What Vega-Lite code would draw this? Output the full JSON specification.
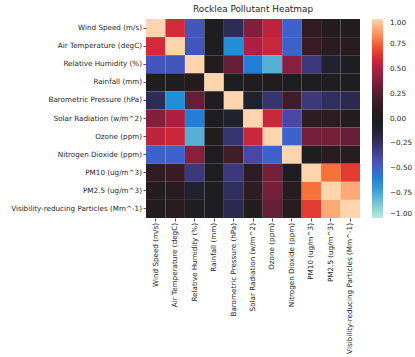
{
"$schema": "https://vega.github.io/schema/vega-lite/v6.json",
"width": 214, "height": 199,
"autosize": "none",
"padding": {"left": 146, "top": 19, "right": 55, "bottom": 139},
"title": {"text": "Rocklea Pollutant Heatmap", "fontSize": 8.9, "font": "DejaVu Sans", "fontWeight": "normal", "color": "#262626", "offset": 5, "anchor": "middle"},
"config": {"font": "DejaVu Sans", "view": {"stroke": null}, "background": "white"},
"data": {"values": [
{"r":"Wind Speed (m/s)","c":"Wind Speed (m/s)","v":1},
{"r":"Wind Speed (m/s)","c":"Air Temperature (degC)","v":0.6},
{"r":"Wind Speed (m/s)","c":"Relative Humidity (%)","v":-0.45},
{"r":"Wind Speed (m/s)","c":"Rainfall (mm)","v":0.0},
{"r":"Wind Speed (m/s)","c":"Barometric Pressure (hPa)","v":-0.22},
{"r":"Wind Speed (m/s)","c":"Solar Radiation (w/m^2)","v":0.38},
{"r":"Wind Speed (m/s)","c":"Ozone (ppm)","v":0.55},
{"r":"Wind Speed (m/s)","c":"Nitrogen Dioxide (ppm)","v":-0.5},
{"r":"Wind Speed (m/s)","c":"PM10 (ug/m^3)","v":0.12},
{"r":"Wind Speed (m/s)","c":"PM2.5 (ug/m^3)","v":0.03},
{"r":"Wind Speed (m/s)","c":"Visibility-reducing Particles (Mm^-1)","v":0.03},
{"r":"Air Temperature (degC)","c":"Wind Speed (m/s)","v":0.6},
{"r":"Air Temperature (degC)","c":"Air Temperature (degC)","v":1},
{"r":"Air Temperature (degC)","c":"Relative Humidity (%)","v":-0.45},
{"r":"Air Temperature (degC)","c":"Rainfall (mm)","v":0.0},
{"r":"Air Temperature (degC)","c":"Barometric Pressure (hPa)","v":-0.65},
{"r":"Air Temperature (degC)","c":"Solar Radiation (w/m^2)","v":0.5},
{"r":"Air Temperature (degC)","c":"Ozone (ppm)","v":0.58},
{"r":"Air Temperature (degC)","c":"Nitrogen Dioxide (ppm)","v":-0.5},
{"r":"Air Temperature (degC)","c":"PM10 (ug/m^3)","v":0.16},
{"r":"Air Temperature (degC)","c":"PM2.5 (ug/m^3)","v":0.07},
{"r":"Air Temperature (degC)","c":"Visibility-reducing Particles (Mm^-1)","v":0.07},
{"r":"Relative Humidity (%)","c":"Wind Speed (m/s)","v":-0.45},
{"r":"Relative Humidity (%)","c":"Air Temperature (degC)","v":-0.45},
{"r":"Relative Humidity (%)","c":"Relative Humidity (%)","v":1},
{"r":"Relative Humidity (%)","c":"Rainfall (mm)","v":0.03},
{"r":"Relative Humidity (%)","c":"Barometric Pressure (hPa)","v":0.3},
{"r":"Relative Humidity (%)","c":"Solar Radiation (w/m^2)","v":-0.6},
{"r":"Relative Humidity (%)","c":"Ozone (ppm)","v":-0.78},
{"r":"Relative Humidity (%)","c":"Nitrogen Dioxide (ppm)","v":0.4},
{"r":"Relative Humidity (%)","c":"PM10 (ug/m^3)","v":-0.3},
{"r":"Relative Humidity (%)","c":"PM2.5 (ug/m^3)","v":-0.12},
{"r":"Relative Humidity (%)","c":"Visibility-reducing Particles (Mm^-1)","v":-0.02},
{"r":"Rainfall (mm)","c":"Wind Speed (m/s)","v":0.0},
{"r":"Rainfall (mm)","c":"Air Temperature (degC)","v":0.0},
{"r":"Rainfall (mm)","c":"Relative Humidity (%)","v":0.03},
{"r":"Rainfall (mm)","c":"Rainfall (mm)","v":1},
{"r":"Rainfall (mm)","c":"Barometric Pressure (hPa)","v":0.0},
{"r":"Rainfall (mm)","c":"Solar Radiation (w/m^2)","v":0.0},
{"r":"Rainfall (mm)","c":"Ozone (ppm)","v":0.02},
{"r":"Rainfall (mm)","c":"Nitrogen Dioxide (ppm)","v":0.0},
{"r":"Rainfall (mm)","c":"PM10 (ug/m^3)","v":0.0},
{"r":"Rainfall (mm)","c":"PM2.5 (ug/m^3)","v":0.0},
{"r":"Rainfall (mm)","c":"Visibility-reducing Particles (Mm^-1)","v":0.0},
{"r":"Barometric Pressure (hPa)","c":"Wind Speed (m/s)","v":-0.22},
{"r":"Barometric Pressure (hPa)","c":"Air Temperature (degC)","v":-0.65},
{"r":"Barometric Pressure (hPa)","c":"Relative Humidity (%)","v":0.3},
{"r":"Barometric Pressure (hPa)","c":"Rainfall (mm)","v":0.0},
{"r":"Barometric Pressure (hPa)","c":"Barometric Pressure (hPa)","v":1},
{"r":"Barometric Pressure (hPa)","c":"Solar Radiation (w/m^2)","v":-0.12},
{"r":"Barometric Pressure (hPa)","c":"Ozone (ppm)","v":-0.28},
{"r":"Barometric Pressure (hPa)","c":"Nitrogen Dioxide (ppm)","v":0.18},
{"r":"Barometric Pressure (hPa)","c":"PM10 (ug/m^3)","v":-0.3},
{"r":"Barometric Pressure (hPa)","c":"PM2.5 (ug/m^3)","v":-0.24},
{"r":"Barometric Pressure (hPa)","c":"Visibility-reducing Particles (Mm^-1)","v":-0.2},
{"r":"Solar Radiation (w/m^2)","c":"Wind Speed (m/s)","v":0.38},
{"r":"Solar Radiation (w/m^2)","c":"Air Temperature (degC)","v":0.5},
{"r":"Solar Radiation (w/m^2)","c":"Relative Humidity (%)","v":-0.6},
{"r":"Solar Radiation (w/m^2)","c":"Rainfall (mm)","v":0.0},
{"r":"Solar Radiation (w/m^2)","c":"Barometric Pressure (hPa)","v":-0.12},
{"r":"Solar Radiation (w/m^2)","c":"Solar Radiation (w/m^2)","v":1},
{"r":"Solar Radiation (w/m^2)","c":"Ozone (ppm)","v":0.58},
{"r":"Solar Radiation (w/m^2)","c":"Nitrogen Dioxide (ppm)","v":-0.38},
{"r":"Solar Radiation (w/m^2)","c":"PM10 (ug/m^3)","v":0.1},
{"r":"Solar Radiation (w/m^2)","c":"PM2.5 (ug/m^3)","v":0.1},
{"r":"Solar Radiation (w/m^2)","c":"Visibility-reducing Particles (Mm^-1)","v":0.03},
{"r":"Ozone (ppm)","c":"Wind Speed (m/s)","v":0.55},
{"r":"Ozone (ppm)","c":"Air Temperature (degC)","v":0.58},
{"r":"Ozone (ppm)","c":"Relative Humidity (%)","v":-0.78},
{"r":"Ozone (ppm)","c":"Rainfall (mm)","v":0.02},
{"r":"Ozone (ppm)","c":"Barometric Pressure (hPa)","v":-0.28},
{"r":"Ozone (ppm)","c":"Solar Radiation (w/m^2)","v":0.58},
{"r":"Ozone (ppm)","c":"Ozone (ppm)","v":1},
{"r":"Ozone (ppm)","c":"Nitrogen Dioxide (ppm)","v":-0.5},
{"r":"Ozone (ppm)","c":"PM10 (ug/m^3)","v":0.35},
{"r":"Ozone (ppm)","c":"PM2.5 (ug/m^3)","v":0.35},
{"r":"Ozone (ppm)","c":"Visibility-reducing Particles (Mm^-1)","v":0.3},
{"r":"Nitrogen Dioxide (ppm)","c":"Wind Speed (m/s)","v":-0.5},
{"r":"Nitrogen Dioxide (ppm)","c":"Air Temperature (degC)","v":-0.5},
{"r":"Nitrogen Dioxide (ppm)","c":"Relative Humidity (%)","v":0.4},
{"r":"Nitrogen Dioxide (ppm)","c":"Rainfall (mm)","v":0.0},
{"r":"Nitrogen Dioxide (ppm)","c":"Barometric Pressure (hPa)","v":0.18},
{"r":"Nitrogen Dioxide (ppm)","c":"Solar Radiation (w/m^2)","v":-0.38},
{"r":"Nitrogen Dioxide (ppm)","c":"Ozone (ppm)","v":-0.5},
{"r":"Nitrogen Dioxide (ppm)","c":"Nitrogen Dioxide (ppm)","v":1},
{"r":"Nitrogen Dioxide (ppm)","c":"PM10 (ug/m^3)","v":0.0},
{"r":"Nitrogen Dioxide (ppm)","c":"PM2.5 (ug/m^3)","v":0.07},
{"r":"Nitrogen Dioxide (ppm)","c":"Visibility-reducing Particles (Mm^-1)","v":0.06},
{"r":"PM10 (ug/m^3)","c":"Wind Speed (m/s)","v":0.12},
{"r":"PM10 (ug/m^3)","c":"Air Temperature (degC)","v":0.16},
{"r":"PM10 (ug/m^3)","c":"Relative Humidity (%)","v":-0.3},
{"r":"PM10 (ug/m^3)","c":"Rainfall (mm)","v":0.0},
{"r":"PM10 (ug/m^3)","c":"Barometric Pressure (hPa)","v":-0.3},
{"r":"PM10 (ug/m^3)","c":"Solar Radiation (w/m^2)","v":0.1},
{"r":"PM10 (ug/m^3)","c":"Ozone (ppm)","v":0.35},
{"r":"PM10 (ug/m^3)","c":"Nitrogen Dioxide (ppm)","v":0.0},
{"r":"PM10 (ug/m^3)","c":"PM10 (ug/m^3)","v":1},
{"r":"PM10 (ug/m^3)","c":"PM2.5 (ug/m^3)","v":0.78},
{"r":"PM10 (ug/m^3)","c":"Visibility-reducing Particles (Mm^-1)","v":0.66},
{"r":"PM2.5 (ug/m^3)","c":"Wind Speed (m/s)","v":0.03},
{"r":"PM2.5 (ug/m^3)","c":"Air Temperature (degC)","v":0.07},
{"r":"PM2.5 (ug/m^3)","c":"Relative Humidity (%)","v":-0.12},
{"r":"PM2.5 (ug/m^3)","c":"Rainfall (mm)","v":0.0},
{"r":"PM2.5 (ug/m^3)","c":"Barometric Pressure (hPa)","v":-0.24},
{"r":"PM2.5 (ug/m^3)","c":"Solar Radiation (w/m^2)","v":0.1},
{"r":"PM2.5 (ug/m^3)","c":"Ozone (ppm)","v":0.35},
{"r":"PM2.5 (ug/m^3)","c":"Nitrogen Dioxide (ppm)","v":0.07},
{"r":"PM2.5 (ug/m^3)","c":"PM10 (ug/m^3)","v":0.78},
{"r":"PM2.5 (ug/m^3)","c":"PM2.5 (ug/m^3)","v":1},
{"r":"PM2.5 (ug/m^3)","c":"Visibility-reducing Particles (Mm^-1)","v":0.9},
{"r":"Visibility-reducing Particles (Mm^-1)","c":"Wind Speed (m/s)","v":0.03},
{"r":"Visibility-reducing Particles (Mm^-1)","c":"Air Temperature (degC)","v":0.07},
{"r":"Visibility-reducing Particles (Mm^-1)","c":"Relative Humidity (%)","v":-0.02},
{"r":"Visibility-reducing Particles (Mm^-1)","c":"Rainfall (mm)","v":0.0},
{"r":"Visibility-reducing Particles (Mm^-1)","c":"Barometric Pressure (hPa)","v":-0.2},
{"r":"Visibility-reducing Particles (Mm^-1)","c":"Solar Radiation (w/m^2)","v":0.03},
{"r":"Visibility-reducing Particles (Mm^-1)","c":"Ozone (ppm)","v":0.3},
{"r":"Visibility-reducing Particles (Mm^-1)","c":"Nitrogen Dioxide (ppm)","v":0.06},
{"r":"Visibility-reducing Particles (Mm^-1)","c":"PM10 (ug/m^3)","v":0.66},
{"r":"Visibility-reducing Particles (Mm^-1)","c":"PM2.5 (ug/m^3)","v":0.9},
{"r":"Visibility-reducing Particles (Mm^-1)","c":"Visibility-reducing Particles (Mm^-1)","v":1}
]},
"mark": {"type": "rect", "strokeWidth": 0},
"encoding": {
 "x": {"field": "c", "type": "nominal", "sort": null, "title": null,
  "axis": {"labelAngle": -90, "labelFontSize": 7.2, "labelColor": "#262626", "tickSize": 3, "tickColor": "#262626", "tickWidth": 0.8, "domain": false, "labelPadding": 1.5, "labelLimit": 300}},
 "y": {"field": "r", "type": "nominal", "sort": null, "title": null,
  "axis": {"labelFontSize": 7.2, "labelColor": "#262626", "tickSize": 3, "tickColor": "#262626", "tickWidth": 0.8, "domain": false, "labelPadding": 1.5, "labelLimit": 300}},
 "color": {"field": "v", "type": "quantitative", "title": null,
  "scale": {"interpolate": "rgb",
   "domain": [-1,-0.875,-0.75,-0.625,-0.5,-0.375,-0.25,-0.125,0,0.125,0.25,0.375,0.5,0.625,0.75,0.875,1],
   "range": ["#bde7db","#84cbd6","#46a8d3","#1a86d9","#3e62cc","#4a45a4","#312f62","#222230","#1e1d1f","#311c22","#541d2f","#7f1f3d","#ae1f42","#dc2c35","#f5632a","#fe9f6b","#ffd5ad"]},
  "legend": {"orient": "right", "offset": 12, "gradientLength": 199, "gradientThickness": 11, "gradientStrokeWidth": 0, "values": [-1,-0.75,-0.5,-0.25,0,0.25,0.5,0.75,1], "format": ".2f", "labelFontSize": 7.2, "labelColor": "#262626", "labelOffset": 7, "labelBaseline": "middle", "padding": 0}}
}
}
